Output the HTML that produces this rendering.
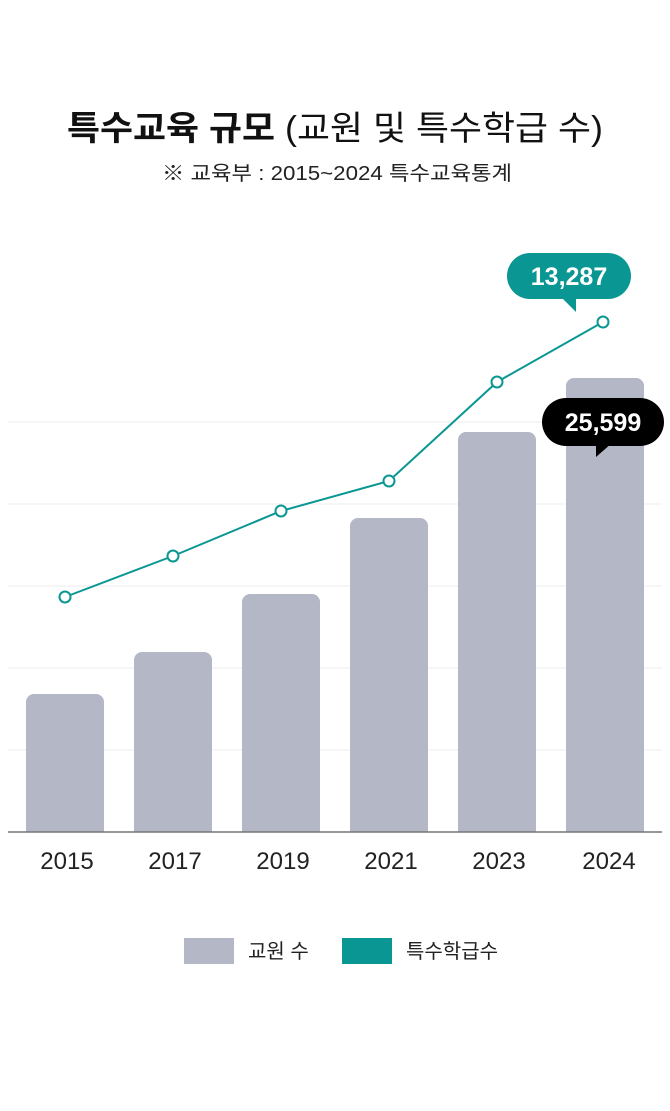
<!DOCTYPE html>
<html><head><meta charset="utf-8"><style>
body{margin:0;background:#fff;}
svg text{font-family:"Liberation Sans","Noto Sans CJK KR",sans-serif;}
</style></head><body>
<svg width="670" height="1106" viewBox="0 0 670 1106" xmlns="http://www.w3.org/2000/svg">
<rect width="670" height="1106" fill="#fff"/>
<text x="335" y="140" text-anchor="middle" font-size="34" fill="#111" textLength="536" lengthAdjust="spacingAndGlyphs"><tspan font-weight="bold">특수교육 규모</tspan> (교원 및 특수학급 수)</text>
<text x="337" y="180" text-anchor="middle" font-size="20" fill="#222" textLength="350" lengthAdjust="spacingAndGlyphs">※ 교육부 : 2015~2024 특수교육통계</text>
<g stroke="#eeeeee" stroke-width="1">
<line x1="8" y1="422" x2="662" y2="422"/><line x1="8" y1="504" x2="662" y2="504"/><line x1="8" y1="586" x2="662" y2="586"/><line x1="8" y1="668" x2="662" y2="668"/><line x1="8" y1="750" x2="662" y2="750"/>
</g>
<g fill="#b4b7c5">
<path d="M26,832V702a8,8 0 0 1 8,-8h62a8,8 0 0 1 8,8V832z"/>
<path d="M134,832V660a8,8 0 0 1 8,-8h62a8,8 0 0 1 8,8V832z"/>
<path d="M242,832V602a8,8 0 0 1 8,-8h62a8,8 0 0 1 8,8V832z"/>
<path d="M350,832V526a8,8 0 0 1 8,-8h62a8,8 0 0 1 8,8V832z"/>
<path d="M458,832V440a8,8 0 0 1 8,-8h62a8,8 0 0 1 8,8V832z"/>
<path d="M566,832V386a8,8 0 0 1 8,-8h62a8,8 0 0 1 8,8V832z"/>
</g>
<line x1="8" y1="832" x2="662" y2="832" stroke="#777" stroke-width="1.5"/>
<polyline points="65,597 173,556 281,511 389,481 497,382 603,322" fill="none" stroke="#0a9794" stroke-width="2"/>
<g fill="#fff" stroke="#0a9794" stroke-width="2">
<circle cx="65" cy="597" r="5.5"/><circle cx="173" cy="556" r="5.5"/><circle cx="281" cy="511" r="5.5"/><circle cx="389" cy="481" r="5.5"/><circle cx="497" cy="382" r="5.5"/><circle cx="603" cy="322" r="5.5"/>
</g>
<rect x="507" y="253" width="124" height="46" rx="23" fill="#0a9794"/>
<path d="M560,296 L576,312 L576,296z" fill="#0a9794"/>
<text x="569" y="285" text-anchor="middle" font-size="25" font-weight="bold" fill="#fff">13,287</text>
<rect x="542" y="398" width="122" height="48" rx="24" fill="#000"/>
<path d="M596,443 L596,457 L612,443z" fill="#000"/>
<text x="603" y="431" text-anchor="middle" font-size="25" font-weight="bold" fill="#fff">25,599</text>
<g font-size="24" fill="#222" text-anchor="middle">
<text x="67" y="869">2015</text><text x="175" y="869">2017</text><text x="283" y="869">2019</text><text x="391" y="869">2021</text><text x="499" y="869">2023</text><text x="609" y="869">2024</text>
</g>
<rect x="184" y="938" width="50" height="26" fill="#b4b7c5"/>
<text x="248" y="958" font-size="20" fill="#222">교원 수</text>
<rect x="342" y="938" width="50" height="26" fill="#0a9794"/>
<text x="406" y="958" font-size="20" fill="#222">특수학급수</text>
</svg>
</body></html>
